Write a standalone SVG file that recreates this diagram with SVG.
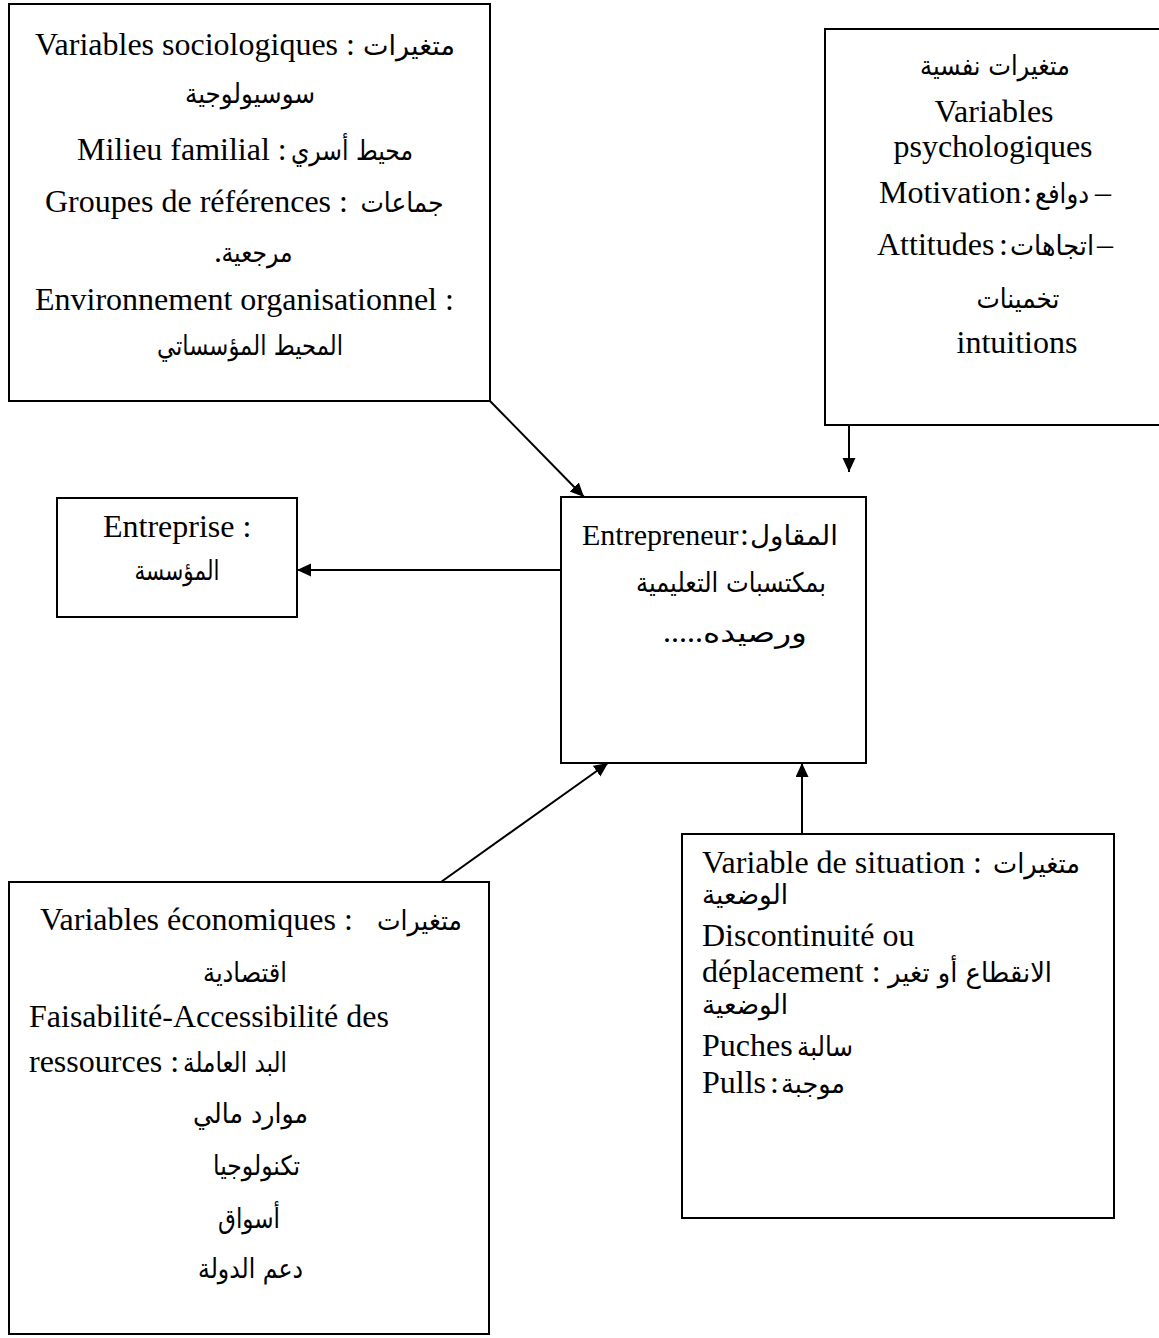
<svg xmlns="http://www.w3.org/2000/svg" width="1159" height="1338" viewBox="0 0 1159 1338">
  <style>
    .box { fill: #fff; stroke: #000; stroke-width: 2; }
    .lat { font-family: "Liberation Serif", "Times New Roman", serif; font-size: 32px; fill: #000; }
    .ar { font-family: "DejaVu Sans", "Noto Sans", sans-serif; font-size: 27px; fill: #000; text-anchor: middle; }
    .mid { text-anchor: middle; }
    .link { fill: none; stroke: #000; stroke-width: 2; }
  </style>
  <defs>
    <marker id="arrowhead" markerUnits="userSpaceOnUse" markerWidth="15" markerHeight="14" refX="14" refY="6.5" orient="auto">
      <path d="M0,0 L14,6.5 L0,13 z" fill="#000"/>
    </marker>
  </defs>
  <rect width="1159" height="1338" fill="#fff"/>

  <!-- sociological variables -->
  <g id="node-sociologiques">
    <rect class="box" x="9" y="4" width="481" height="397"/>
    <text class="lat" x="35" y="55">Variables sociologiques :</text>
    <text class="ar" x="409" y="55" textLength="92" lengthAdjust="spacingAndGlyphs">متغيرات</text>
    <text class="ar" x="250" y="103" textLength="130" lengthAdjust="spacingAndGlyphs">سوسيولوجية</text>
    <text class="lat" x="77" y="160">Milieu familial :</text>
    <text class="ar" x="352" y="160" textLength="122" lengthAdjust="spacingAndGlyphs">محيط أسري</text>
    <text class="lat" x="45" y="212">Groupes de références :</text>
    <text class="ar" x="402" y="212" textLength="83" lengthAdjust="spacingAndGlyphs">جماعات</text>
    <text class="lat" x="214" y="262">.</text>
    <text class="ar" x="257" y="262" textLength="71" lengthAdjust="spacingAndGlyphs">مرجعية</text>
    <text class="lat" x="35" y="310">Environnement organisationnel :</text>
    <text class="ar" x="250" y="355" textLength="186" lengthAdjust="spacingAndGlyphs">المحيط المؤسساتي</text>
  </g>

  <!-- psychological variables -->
  <g id="node-psychologiques">
    <rect class="box" x="825" y="29" width="345" height="396"/>
    <text class="ar" x="995" y="75" textLength="150" lengthAdjust="spacingAndGlyphs">متغيرات نفسية</text>
    <text class="lat mid" x="994" y="122">Variables</text>
    <text class="lat mid" x="993" y="157">psychologiques</text>
    <text class="lat" x="879" y="203">Motivation</text>
    <text class="lat" x="1023" y="203">:</text>
    <text class="ar" x="1062" y="203" textLength="54" lengthAdjust="spacingAndGlyphs">دوافع</text>
    <text class="lat" x="1095" y="203">–</text>
    <text class="lat" x="877" y="255">Attitudes</text>
    <text class="lat" x="999" y="255">:</text>
    <text class="ar" x="1052" y="255" textLength="84" lengthAdjust="spacingAndGlyphs">اتجاهات</text>
    <text class="lat" x="1097" y="255">–</text>
    <text class="ar" x="1018" y="308" textLength="83" lengthAdjust="spacingAndGlyphs">تخمينات</text>
    <text class="lat mid" x="1017" y="353">intuitions</text>
  </g>

  <!-- the firm -->
  <g id="node-entreprise">
    <rect class="box" x="57" y="498" width="240" height="119"/>
    <text class="lat" x="103" y="537">Entreprise :</text>
    <text class="ar" x="177" y="580" textLength="85" lengthAdjust="spacingAndGlyphs">المؤسسة</text>
  </g>

  <!-- the entrepreneur -->
  <g id="node-entrepreneur">
    <rect class="box" x="561" y="497" width="305" height="266"/>
    <text class="lat" x="582" y="545" style="font-size:30px">Entrepreneur</text>
    <text class="lat" x="740" y="545">:</text>
    <text class="ar" x="794" y="545" textLength="88" lengthAdjust="spacingAndGlyphs">المقاول</text>
    <text class="ar" x="731" y="592" textLength="190" lengthAdjust="spacingAndGlyphs">بمكتسبات التعليمية</text>
    <text class="lat" x="663" y="642">.....</text>
    <text class="ar" x="755" y="642" textLength="104" lengthAdjust="spacingAndGlyphs">ورصيده</text>
  </g>

  <!-- economic variables -->
  <g id="node-economiques">
    <rect class="box" x="9" y="882" width="480" height="452"/>
    <text class="lat" x="40" y="930">Variables économiques :</text>
    <text class="ar" x="419.5" y="930" textLength="85" lengthAdjust="spacingAndGlyphs">متغيرات</text>
    <text class="ar" x="245" y="982" textLength="84" lengthAdjust="spacingAndGlyphs">اقتصادية</text>
    <text class="lat" x="29" y="1027">Faisabilité-Accessibilité des</text>
    <text class="lat" x="29" y="1072">ressources :</text>
    <text class="ar" x="235" y="1072" textLength="104" lengthAdjust="spacingAndGlyphs">البد العاملة</text>
    <text class="ar" x="250.5" y="1123" textLength="115" lengthAdjust="spacingAndGlyphs">موارد مالي</text>
    <text class="ar" x="256.5" y="1175" textLength="87" lengthAdjust="spacingAndGlyphs">تكنولوجيا</text>
    <text class="ar" x="249" y="1228" textLength="62" lengthAdjust="spacingAndGlyphs">أسواق</text>
    <text class="ar" x="250.5" y="1278" textLength="105" lengthAdjust="spacingAndGlyphs">دعم الدولة</text>
  </g>

  <!-- situation variables -->
  <g id="node-situation">
    <rect class="box" x="682" y="834" width="432" height="384"/>
    <text class="lat" x="702" y="873">Variable de situation :</text>
    <text class="ar" x="1036.5" y="873" textLength="87" lengthAdjust="spacingAndGlyphs">متغيرات</text>
    <text class="ar" x="745" y="904" textLength="86" lengthAdjust="spacingAndGlyphs">الوضعية</text>
    <text class="lat" x="702" y="946">Discontinuité ou</text>
    <text class="lat" x="702" y="982">déplacement :</text>
    <text class="ar" x="970" y="982" textLength="164" lengthAdjust="spacingAndGlyphs">الانقطاع أو تغير</text>
    <text class="ar" x="745" y="1014" textLength="86" lengthAdjust="spacingAndGlyphs">الوضعية</text>
    <text class="lat" x="702" y="1056">Puches</text>
    <text class="ar" x="825" y="1056" textLength="56" lengthAdjust="spacingAndGlyphs">سالبة</text>
    <text class="lat" x="702" y="1093">Pulls</text>
    <text class="lat" x="770" y="1093">:</text>
    <text class="ar" x="813" y="1093" textLength="64" lengthAdjust="spacingAndGlyphs">موجبة</text>
  </g>

  <!-- connectors -->
  <g id="connectors">
    <line class="link" x1="490" y1="401" x2="584" y2="497" marker-end="url(#arrowhead)"/>
    <line class="link" x1="849" y1="425" x2="849" y2="472" marker-end="url(#arrowhead)"/>
    <line class="link" x1="561" y1="570" x2="297" y2="570" marker-end="url(#arrowhead)"/>
    <line class="link" x1="441" y1="882" x2="608" y2="763" marker-end="url(#arrowhead)"/>
    <line class="link" x1="802" y1="834" x2="802" y2="763" marker-end="url(#arrowhead)"/>
  </g>
</svg>
